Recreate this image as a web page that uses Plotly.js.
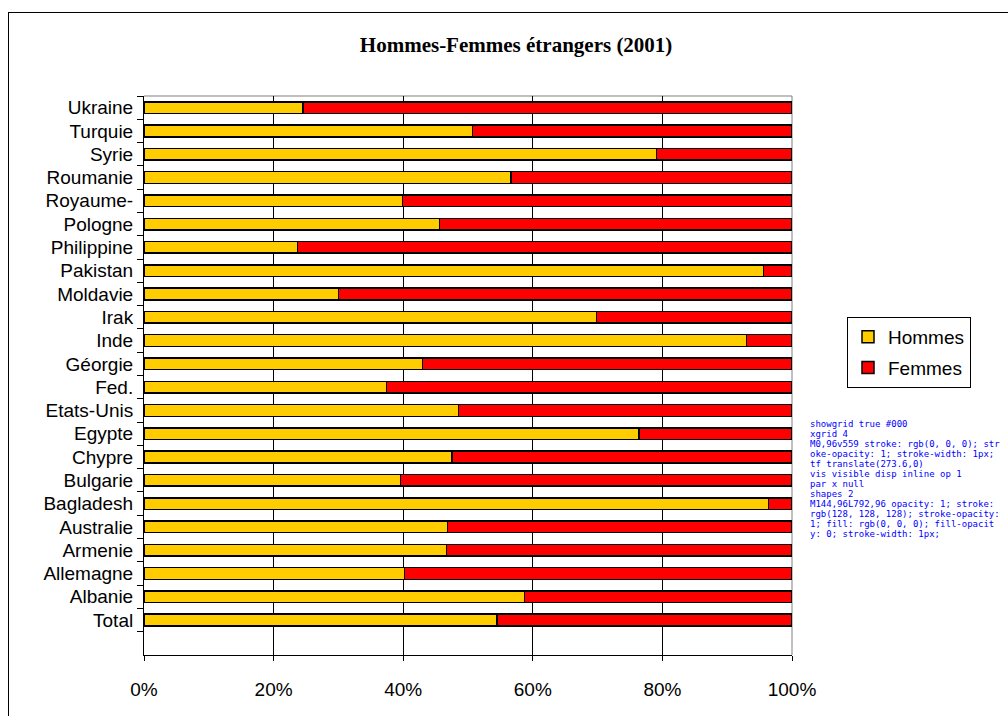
<!DOCTYPE html>
<html>
<head>
<meta charset="utf-8">
<script src="https://cdn.plot.ly/plotly-3.0.1.min.js"></script>
<style>
    html, body { margin: 0; padding: 0; background: #fff; overflow: hidden; }
    #chart { width: 1008px; height: 716px; }
    .edge { position: absolute; background: #000; pointer-events: none; }
    #edge-left { left: 8px; top: 12px; width: 1px; height: 704px; }
    #edge-top { left: 8px; top: 12px; width: 1000px; height: 1px; }
    #diag { position: absolute; left: 810px; top: 410px; width: 195px; color: #00f; font: 9px monospace; white-space: pre-wrap; word-break: break-all; }
</style>
</head>
<body>
<div id="chart"></div>
<div class="edge" id="edge-left"></div>
<div class="edge" id="edge-top"></div>
<pre id="diag"></pre>
<script>
// Pays, du bas vers le haut
const countries = [
    'Total', 'Albanie', 'Allemagne', 'Armenie', 'Australie', 'Bagladesh',
    'Bulgarie', 'Chypre', 'Egypte', 'Etats-Unis', 'Fed.', 'Géorgie',
    'Inde', 'Irak', 'Moldavie', 'Pakistan', 'Philippine', 'Pologne',
    'Royaume-', 'Roumanie', 'Syrie', 'Turquie', 'Ukraine'
];

// Parts en %
const hommes = [
    54.5, 58.7, 40.2, 46.7, 46.8, 96.4,
    39.6, 47.5, 76.4, 48.5, 37.4, 43.0,
    93.0, 69.8, 30.0, 95.6, 23.7, 45.6,
    39.9, 56.6, 79.1, 50.7, 24.5
];
const femmes = [
    45.5, 41.3, 59.8, 53.3, 53.2, 3.6,
    60.4, 52.5, 23.6, 51.5, 62.6, 57.0,
    7.0, 30.2, 70.0, 4.4, 76.3, 54.4,
    60.1, 43.4, 20.9, 49.3, 75.5
];

const xTicks = [0, 20, 40, 60, 80, 100];
const xTickText = ['0%', '20%', '40%', '60%', '80%', '100%'];

const FONT = 'Liberation Sans, Arial, sans-serif';

function barTrace(name, values, color, group) {
    return {
        type: 'bar',
        orientation: 'h',
        name: name,
        y: countries,
        x: values,
        legendgroup: group,
        marker: { color: color, line: { color: '#000', width: 1.5 } }
    };
}

const data = [
    barTrace('Hommes', hommes, '#FFCC00', 'h'),
    barTrace('Femmes', femmes, '#FF0000', 'f')
];

// bord gris du haut et de droite de la zone de tracé
function grayEdge(x0, y0, x1, y1) {
    return {
        type: 'line', xref: 'paper', yref: 'paper',
        x0: x0, y0: y0, x1: x1, y1: y1,
        line: { color: '#808080', width: 1 },
        layer: 'below'
    };
}

const layout = {
    width: 1008,
    height: 716,
    margin: { l: 144, r: 216, t: 96, b: 61 },
    paper_bgcolor: '#fff',
    plot_bgcolor: '#fff',
    barmode: 'stack',
    bargap: 0.5,
    font: { family: FONT, size: 19, color: '#000' },
    title: {
        text: '<b>Hommes-Femmes étrangers (2001)</b>',
        font: { family: 'Liberation Serif, Times New Roman, serif', size: 21, color: '#000' },
        xref: 'container', x: 0.512, xanchor: 'center',
        yref: 'container', y: 1 - 45 / 716, yanchor: 'middle'
    },
    xaxis: {
        range: [0, 100],
        tickmode: 'array',
        tickvals: xTicks,
        ticktext: xTickText,
        ticks: 'outside', ticklen: 5, tickcolor: '#000',
        ticklabelstandoff: 12,
        showgrid: true, gridcolor: '#000', gridwidth: 1,
        zeroline: false,
        showline: true, linecolor: '#000', linewidth: 1
    },
    yaxis: {
        type: 'category',
        categoryorder: 'array',
        categoryarray: countries,
        range: [-1.5, countries.length - 0.5],
        tickson: 'boundaries',
        ticks: 'outside', ticklen: 6, tickcolor: '#000',
        ticklabelstandoff: 6,
        showgrid: false,
        zeroline: false,
        showline: true, linecolor: '#000', linewidth: 1
    },
    shapes: [
        grayEdge(0, 1, 1, 1),
        grayEdge(1, 0, 1, 1)
    ],
    showlegend: true,
    legend: {
        x: (847 - 144) / 648, xanchor: 'left',
        y: (655 - 317) / 559, yanchor: 'top',
        bgcolor: '#fff', bordercolor: '#000', borderwidth: 1,
        traceorder: 'grouped', tracegroupgap: 3,
        font: { family: FONT, size: 19, color: '#000' }
    }
};

const gd = document.getElementById('chart');
const diag = document.getElementById('diag');
function note(s) { diag.textContent += s + '\n'; }
window.onerror = function(m) { note('ERR ' + m); };

Plotly.newPlot(gd, data, layout, { displayModeBar: false }).then(function() {
    const fx = gd._fullLayout.xaxis;
    note('showgrid ' + fx.showgrid + ' ' + fx.gridcolor);
    const g = gd.querySelectorAll('.xgrid');
    note('xgrid ' + g.length);
    if (g.length) {
        note(g[0].getAttribute('d') + ' ' + g[0].getAttribute('style'));
        note('tf ' + g[0].getAttribute('transform'));
        const cs = getComputedStyle(g[0]);
        note('vis ' + cs.visibility + ' disp ' + cs.display + ' op ' + cs.opacity);
        const par = g[0].parentNode;
        note('par ' + par.getAttribute('class') + ' ' + par.getAttribute('style'));
    }
    const s = gd.querySelectorAll('.shapelayer path');
    note('shapes ' + s.length);
    if (s.length) note(s[0].getAttribute('d') + ' ' + s[0].getAttribute('style'));
}).catch(function(e) { note('P ' + e); });
</script>
</body>
</html>
